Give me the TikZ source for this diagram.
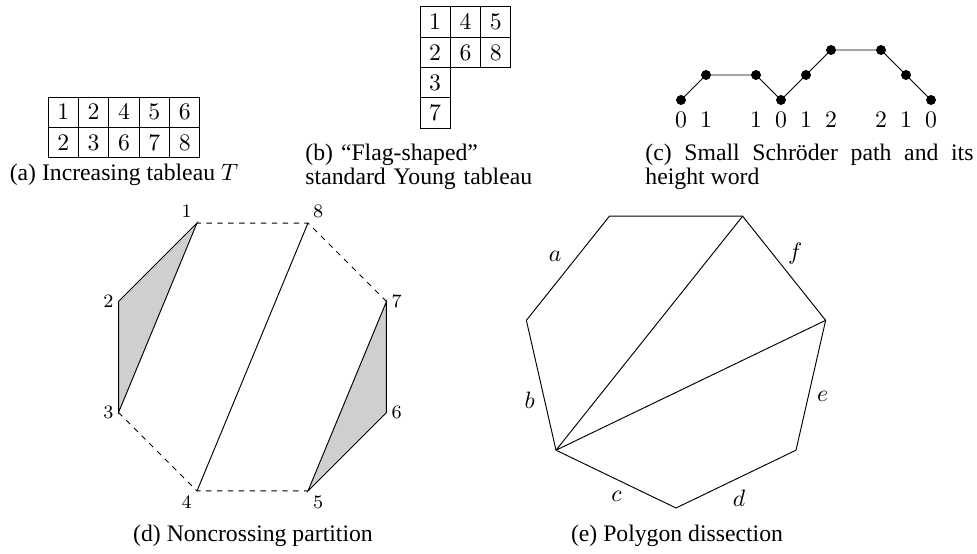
\documentclass[tikz,border=0pt]{standalone}
\usepackage{amsmath}
\usepackage{fontspec}
\setmainfont{Liberation Serif}
\usepackage{tikz}
\usetikzlibrary{positioning,calc}

\begin{document}
\begin{tikzpicture}[x=0.4219pt,y=0.4219pt,
    cell/.style={draw,minimum size=12.8pt,inner sep=0pt,outer sep=0pt},
    vlab/.style={font=\footnotesize,inner sep=2pt},
    elab/.style={inner sep=2.5pt},
    capt/.style={inner sep=0pt,font=\fontsize{10}{10}\selectfont},
    gap/.style={dash pattern=on 2.3pt off 2.3pt}]
  \useasboundingbox (0,0) rectangle (977,554);

  % (a) Increasing tableau
  \foreach \v [count=\i] in {1,2,4,5,6}
    \node[cell] (ta\i) at ({32.8+30.4*\i},441.8) {$\v$};
  \foreach \v [count=\i] in {2,3,6,7,8}
    \node[cell] (tb\i) at ({32.8+30.4*\i},411.4) {$\v$};
  \node[capt,anchor=base] (capa) at (124,373) {(a) Increasing tableau $T$};

  % (b) Flag-shaped tableau
  \foreach \v [count=\i] in {1,4,5}
    \node[cell] (fa\i) at ({404.85+30.3*\i},531.85) {$\v$};
  \foreach \v [count=\i] in {2,6,8}
    \node[cell] (fb\i) at ({404.85+30.3*\i},501.55) {$\v$};
  \node[cell] (fc1) at (435.15,471.25) {$3$};
  \node[cell] (fd1) at (435.15,440.95) {$7$};
  \node[capt,anchor=base west,text width=100pt,align=left] (capb) at (305,393)
    {(b) ``Flag-shaped''\\standard Young tableau};

  % (c) Schroeder path and height word
  \foreach \x/\h [count=\i] in {0/0,1/1,3/1,4/0,5/1,6/2,8/2,9/1,10/0} {
    \coordinate (s\i) at ({681+25*\x},{454+25*\h});
    \node (w\i) at ({681+25*\x},434) {$\h$};
  }
  \draw (s1) -- (s2) -- (s3) -- (s4) -- (s5) -- (s6) -- (s7) -- (s8) -- (s9);
  \foreach \i in {1,...,9}
    \fill (s\i) circle (2.1pt);
  \node[capt,anchor=base west,text width=138.4pt,align=justify] (capc) at (645,393)
    {(c) Small Schröder path and its height word};

  % (d) Noncrossing partition
  \coordinate (oc) at (252.5,197);
  \foreach \i in {1,...,8}
    \coordinate (o\i) at ($(oc)+({67.5+45*\i}:145)$);
  \filldraw[fill=gray!38] (o1) -- (o2) -- (o3) -- cycle;
  \filldraw[fill=gray!38] (o5) -- (o6) -- (o7) -- cycle;
  \draw (o4) -- (o8);
  \draw[gap] (o3) -- (o4) -- (o5);
  \draw[gap] (o7) -- (o8) -- (o1);
  \foreach \i/\p in {1/above left,2/left,3/left,4/below left,5/below right,6/right,7/right,8/above right}
    \node[vlab,\p] (n\i) at (o\i) {$\i$};
  \node[capt,anchor=base] (capd) at (253,12) {(d) Noncrossing partition};

  % (e) Polygon dissection
  \coordinate (hc) at (676,199.5);
  \foreach \i in {1,...,7}
    \coordinate (p\i) at ($(hc)+({270+360/7*(\i-1)}:153.5)$);
  \draw (p1) -- node[elab,auto,swap,pos=0.42] (ld) {$d$} (p2)
        -- node[elab,auto,swap] (le) {$e$} (p3)
        -- node[elab,auto,swap,inner sep=1.5pt] (lf) {$f$} (p4)
        -- (p5)
        -- node[elab,auto,swap] (la) {$a$} (p6)
        -- node[elab,auto,swap] (lb) {$b$} (p7)
        -- node[elab,auto,swap,pos=0.6] (lc) {$c$} (p1);
  \draw (p7) -- (p4) (p7) -- (p3);
  \node[capt,anchor=base] (cape) at (677,12) {(e) Polygon dissection};
\end{tikzpicture}
\end{document}
